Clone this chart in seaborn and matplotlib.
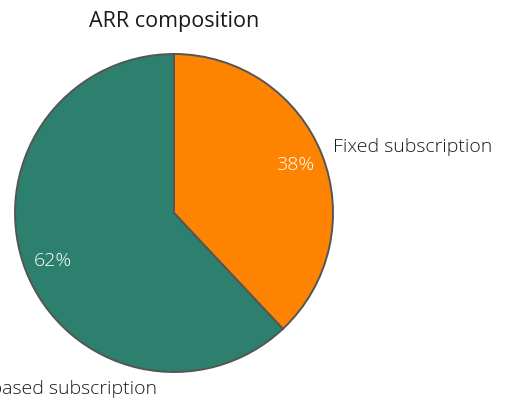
import matplotlib
matplotlib.use("Agg")
import matplotlib.pyplot as plt
import seaborn as sns

sns.set_theme(style="white")
plt.rcParams['font.family'] = ['Open Sans', 'DejaVu Sans']

categories = ["Fixed subscription", "Usage-based subscription"]
shares = [38, 62]
colors = ["#FE8300", "#2D7F6E"]

fig = plt.figure(figsize=(5.22, 4.01), dpi=100)
ax = fig.add_axes([0, 0, 1, 1])
cx, cy, r = 174, 213, 159
W, H = 522, 401

wedges, texts, autotexts = ax.pie(
    shares, labels=categories, colors=colors, startangle=90, counterclock=False,
    autopct='%1.0f%%', pctdistance=0.82, labeldistance=1.1,
    wedgeprops=dict(edgecolor="#555555", linewidth=1.4),
    textprops=dict(fontsize=14, color="#1a1a1a", fontweight='light'))
ax.set_xlim(-cx / r, (W - cx) / r)
ax.set_ylim(-(H - cy) / r, cy / r)
ax.set_aspect('equal')
ax.axis('off')

for t in autotexts:
    t.set_color("white")
    t.set_fontsize(14)
texts[0].set_position((1.0, 0.415))
texts[0].set_ha('left'); texts[0].set_va('center')
texts[1].set_position((-0.107, -1.11))
texts[1].set_ha('right'); texts[1].set_va('center')

ax.text(0.0, (cy - 22) / r, "ARR composition", ha='center', va='center',
        fontsize=15.5, color="#1a1a1a", fontweight='medium')

fig.savefig("out.png", dpi=100)
